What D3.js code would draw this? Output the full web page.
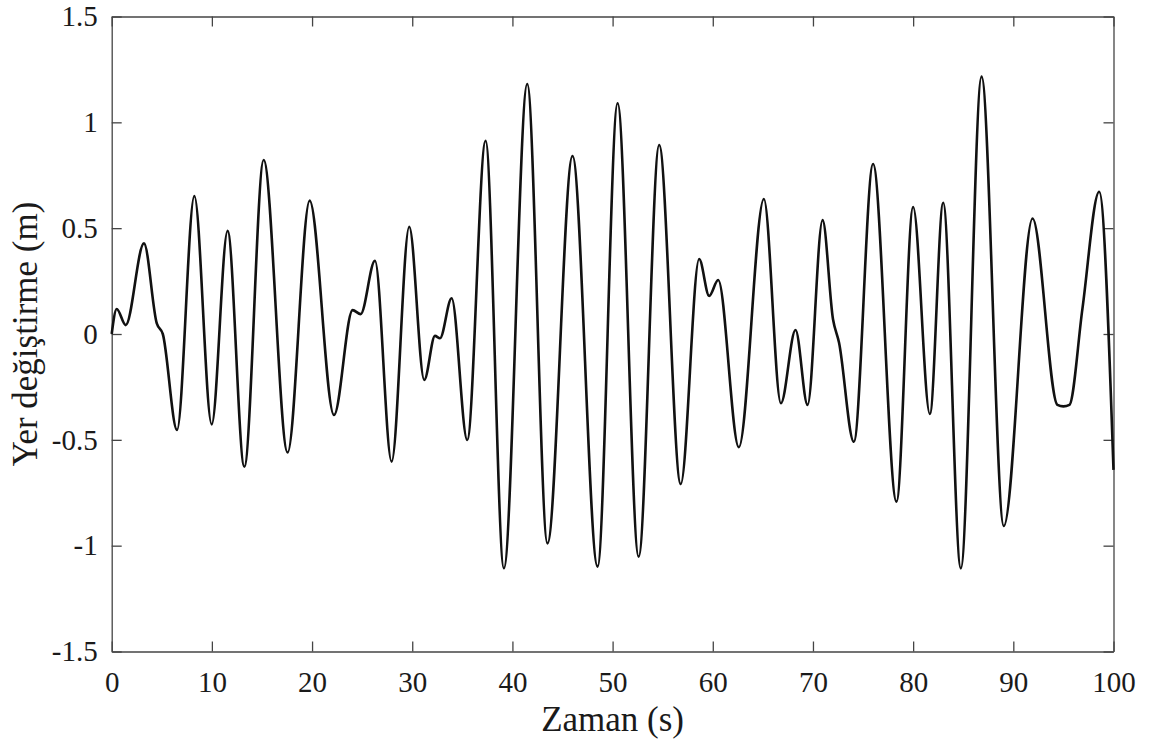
<!DOCTYPE html>
<html>
<head>
<meta charset="utf-8">
<script src="https://cdn.jsdelivr.net/npm/d3@7"></script>
<style>
	body { margin: 0; background: #fff; }
	svg { display: block; }
</style>
</head>
<body>
<div id="chart"></div>
<script>
// Time (s) and displacement (m) at peaks, troughs and bends
const timeValues = [
	0, 0.5, 1.4, 3.22, 4.5, 5.1, 6.52, 8.25, 9.98, 11.57, 13.24, 15.17, 17.56, 19.76,
	22.19, 24.05, 24.85, 26.28, 27.94, 29.7, 31.2, 32.27, 32.77, 33.93, 35.49, 37.32,
	39.15, 41.48, 43.5, 46.0, 48.5, 50.5, 52.6, 54.65, 56.8, 58.64, 59.64, 60.54, 62.6,
	65.1, 66.8, 68.26, 69.46, 70.96, 72.0, 72.6, 74.08, 76.0, 78.34, 80.0, 81.67, 83.0,
	84.76, 86.83, 89.05, 91.92, 94.4, 95.0, 95.6, 96.9, 98.57, 100,
];
const displacementValues = [
	0, 0.118, 0.042, 0.428, 0.05, 0.0, -0.453, 0.652, -0.427, 0.487, -0.627, 0.822, -0.56, 0.63,
	-0.383, 0.113, 0.094, 0.346, -0.603, 0.507, -0.217, -0.009, -0.02, 0.169, -0.501, 0.913,
	-1.107, 1.181, -0.989, 0.841, -1.099, 1.09, -1.052, 0.893, -0.709, 0.354, 0.18, 0.255, -0.535,
	0.638, -0.327, 0.019, -0.335, 0.538, 0.07, -0.04, -0.509, 0.803, -0.792, 0.6, -0.378, 0.62,
	-1.107, 1.216, -0.907, 0.546, -0.335, -0.342, -0.335, 0.12, 0.672, -0.642,
];

const xTicks = [0, 10, 20, 30, 40, 50, 60, 70, 80, 90, 100];
const yTicks = [-1.5, -1, -0.5, 0, 0.5, 1, 1.5];
const xLabel = "Zaman (s)";
const yLabel = "Yer değiştirme (m)";

const width = 1150;
const height = 747;
const margin = { top: 16.5, right: 36.5, bottom: 95.5, left: 111.7 };
const font = "'Liberation Serif', 'Times New Roman', serif";

const data = timeValues.map((t, i) => ({ t, y: displacementValues[i] }));

const x = d3
	.scaleLinear()
	.domain([0, 100])
	.range([margin.left, width - margin.right]);

const y = d3
	.scaleLinear()
	.domain([-1.5, 1.5])
	.range([height - margin.bottom, margin.top]);

// plain hyphen for negatives, like the original figure
const fmt = (d) => String(d);

const svg = d3
	.select("#chart")
	.append("svg")
	.attr("width", width)
	.attr("height", height);

svg.append("rect").attr("width", width).attr("height", height).attr("fill", "#fff");

// Axes with inward ticks on all four sides
function styleAxis(g) {
	g.attr("font-family", font).attr("font-size", 29);
	g.selectAll(".domain").attr("stroke", "#444").attr("stroke-width", 1.3);
	g.selectAll(".tick line").attr("stroke", "#444").attr("stroke-width", 1.3);
	g.selectAll(".tick text").attr("fill", "#1a1a1a");
}

svg.append("g")
	.attr("transform", `translate(0,${height - margin.bottom})`)
	.call(d3.axisBottom(x).tickValues(xTicks).tickFormat(fmt).tickSizeInner(-10).tickSizeOuter(0).tickPadding(20))
	.call(styleAxis);

svg.append("g")
	.attr("transform", `translate(0,${margin.top})`)
	.call(d3.axisTop(x).tickValues(xTicks).tickFormat("").tickSizeInner(-10).tickSizeOuter(0))
	.call(styleAxis);

svg.append("g")
	.attr("transform", `translate(${margin.left},0)`)
	.call(d3.axisLeft(y).tickValues(yTicks).tickFormat(fmt).tickSizeInner(-10).tickSizeOuter(0).tickPadding(14))
	.call(styleAxis);

svg.append("g")
	.attr("transform", `translate(${width - margin.right},0)`)
	.call(d3.axisRight(y).tickValues(yTicks).tickFormat("").tickSizeInner(-10).tickSizeOuter(0))
	.call(styleAxis);

// The displacement curve
const line = d3
	.line()
	.x((d) => x(d.t))
	.y((d) => y(d.y))
	.curve(d3.curveMonotoneX);

svg.append("path")
	.datum(data)
	.attr("fill", "none")
	.attr("stroke", "#111")
	.attr("stroke-width", 2.6)
	.attr("stroke-linejoin", "round")
	.attr("d", line);

// Axis titles
svg.append("text")
	.attr("x", (x(0) + x(100)) / 2)
	.attr("y", 731)
	.attr("text-anchor", "middle")
	.attr("font-family", font)
	.attr("font-size", 35)
	.attr("fill", "#1a1a1a")
	.text(xLabel);

svg.append("text")
	.attr("transform", `translate(37,${(y(-1.5) + y(1.5)) / 2}) rotate(-90)`)
	.attr("text-anchor", "middle")
	.attr("font-family", font)
	.attr("font-size", 35)
	.attr("fill", "#1a1a1a")
	.text(yLabel);
</script>
</body>
</html>
